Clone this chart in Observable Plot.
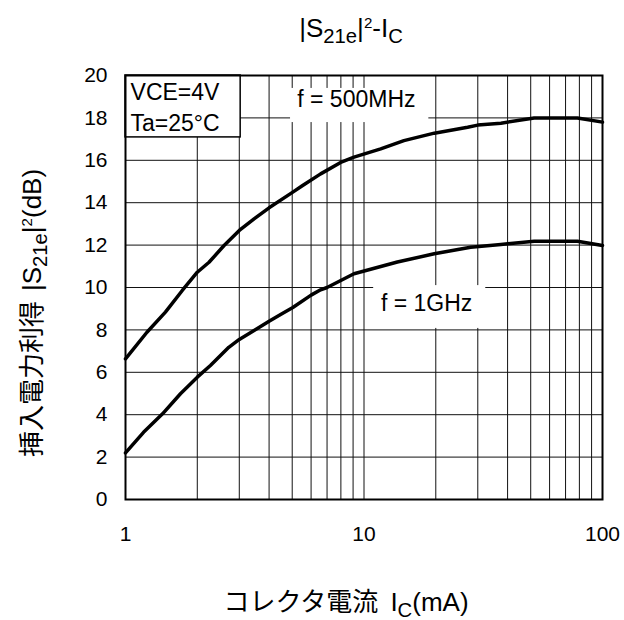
<!DOCTYPE html>
<html>
<head>
<meta charset="utf-8">
<script src="https://cdn.jsdelivr.net/npm/d3@7"></script>
<script src="https://cdn.jsdelivr.net/npm/@observablehq/plot@0.6"></script>
<style>
  html, body { margin: 0; padding: 0; background: #fff; }
  #chart svg { display: block; }
</style>
</head>
<body>
<div id="chart"></div>
<script>
// ---- data ----
const ic500 = [1, 1.23, 1.47, 1.73, 2.0, 2.24, 2.59, 3.0, 3.46, 4.0, 5.03, 5.51, 6.58, 7.98, 9.08, 11.75, 14.7, 19.7, 27.2, 30, 37.5, 51.7, 78.5, 100];
const gain500 = [6.63, 7.89, 8.84, 9.86, 10.72, 11.19, 11.98, 12.69, 13.24, 13.76, 14.5, 14.8, 15.36, 15.9, 16.15, 16.54, 16.93, 17.28, 17.56, 17.66, 17.75, 18.0, 18.0, 17.8];
const ic1g = [1, 1.19, 1.43, 1.70, 2.0, 2.27, 2.71, 3.0, 3.46, 4.0, 4.47, 5.03, 6.0, 6.58, 7.0, 9.08, 13.8, 19.7, 28, 37.5, 51.7, 78.5, 100];
const gain1g = [2.2, 3.17, 4.04, 4.99, 5.77, 6.32, 7.18, 7.55, 7.97, 8.41, 8.73, 9.06, 9.64, 9.89, 10.0, 10.65, 11.2, 11.59, 11.9, 12.03, 12.18, 12.18, 11.98];
const seriesNames = ["f = 500MHz", "f = 1GHz"];

const xTicks = [1, 10, 100];
const xGrid = [1,2,3,4,5,6,7,8,9,10,20,30,40,50,60,70,80,90,100];
const yTicks = [0,2,4,6,8,10,12,14,16,18,20];

// annotation labels (data coordinates)
const seriesLabelX = [9.29, 18.3];
const seriesLabelY = [18.87, 9.22];
const labelBoxX1 = [4.92, 10.98];
const labelBoxX2 = [18.7, 32.4];
const labelBoxY1 = [17.78, 8.07];
const labelBoxY2 = [19.39, 10.09];
const condTexts = ["VCE=4V", "Ta=25°C"];
const condX = [1.05, 1.05];
const condY = [19.2, 17.74];
const condBox = {x1: 1, x2: 3.04, y1: 17.08, y2: 20};

// ---- build tables ----
const lineData = [
  ...ic500.map((v, i) => ({ic: v, g: gain500[i], s: seriesNames[0]})),
  ...ic1g.map((v, i) => ({ic: v, g: gain1g[i], s: seriesNames[1]}))
];
const labels = seriesNames.map((t, i) => ({t, x: seriesLabelX[i], y: seriesLabelY[i],
  x1: labelBoxX1[i], x2: labelBoxX2[i], y1: labelBoxY1[i], y2: labelBoxY2[i]}));
const conds = condTexts.map((t, i) => ({t, x: condX[i], y: condY[i]}));

const FONT = "'Liberation Sans', Arial, 'Noto Sans CJK JP', sans-serif";

const plot = Plot.plot({
  width: 624,
  height: 620,
  marginLeft: 125,
  marginRight: 22,
  marginTop: 75,
  marginBottom: 121,
  style: {fontFamily: FONT, fontSize: "21px", color: "#000", background: "#fff"},
  x: {type: "log", domain: [1, 100], ticks: xTicks, tickFormat: d => String(d), tickSize: 0, tickPadding: 27, label: null},
  y: {domain: [0, 20], ticks: yTicks, tickSize: 0, tickPadding: 18, label: null},
  marks: [
    Plot.ruleX(xGrid, {stroke: "#111", strokeWidth: 1}),
    Plot.ruleY(yTicks, {stroke: "#111", strokeWidth: 1}),
    Plot.rect(labels, {x1: "x1", x2: "x2", y1: "y1", y2: "y2", fill: "white"}),
    Plot.rect([condBox], {x1: "x1", x2: "x2", y1: "y1", y2: "y2", fill: "white", stroke: "#000", strokeWidth: 1.5}),
    Plot.line(lineData, {x: "ic", y: "g", z: "s", stroke: "#000", strokeWidth: 3.5, strokeLinejoin: "round"}),
    Plot.frame({stroke: "#000", strokeWidth: 2}),
    Plot.text(labels, {x: "x", y: "y", text: "t", fontSize: 23, fill: "#000"}),
    Plot.text(conds, {x: "x", y: "y", text: "t", fontSize: 23, textAnchor: "start", fill: "#000"}),
    Plot.axisX({ticks: xTicks, tickFormat: d => String(d), tickSize: 0, tickPadding: 27, label: null}),
    Plot.axisY({ticks: yTicks, tickSize: 0, tickPadding: 18, label: null})
  ]
});
document.getElementById("chart").appendChild(plot);

// ---- rich text labels with subscripts/superscripts ----
const svg = d3.select(plot);
function rich(x, y, F, parts, rotate) {
  const t = svg.append("text")
    .attr("font-family", FONT)
    .attr("font-size", F)
    .attr("fill", "#000")
    .attr("text-anchor", "middle");
  if (rotate) t.attr("transform", `translate(${x},${y}) rotate(-90)`);
  else t.attr("x", x).attr("y", y);
  let shift = 0;
  for (const [str, kind, dx] of parts) {
    const ts = t.append("tspan").text(str);
    let target = 0, size = F;
    if (kind === "sub") { target = 0.22 * F; size = 0.78 * F; }
    if (kind === "sup") { target = -0.36 * F; size = 0.58 * F; }
    ts.attr("dy", target - shift).attr("font-size", size);
    if (dx) ts.attr("dx", dx);
    shift = target;
  }
  return t;
}
rich(351, 37, 26, [["|S", ""], ["21e", "sub"], ["|", ""], ["2", "sup"], ["-I", ""], ["C", "sub"]]);
rich(346, 611, 26, [["コレクタ電流", ""], ["I", "", 12], ["C", "sub"], ["(mA)", ""]]);
rich(41, 313, 26, [["挿入電力利得", ""], ["|S", "", 10], ["21e", "sub"], ["|", ""], ["2", "sup"], ["(dB)", ""]], true);
</script>
</body>
</html>
